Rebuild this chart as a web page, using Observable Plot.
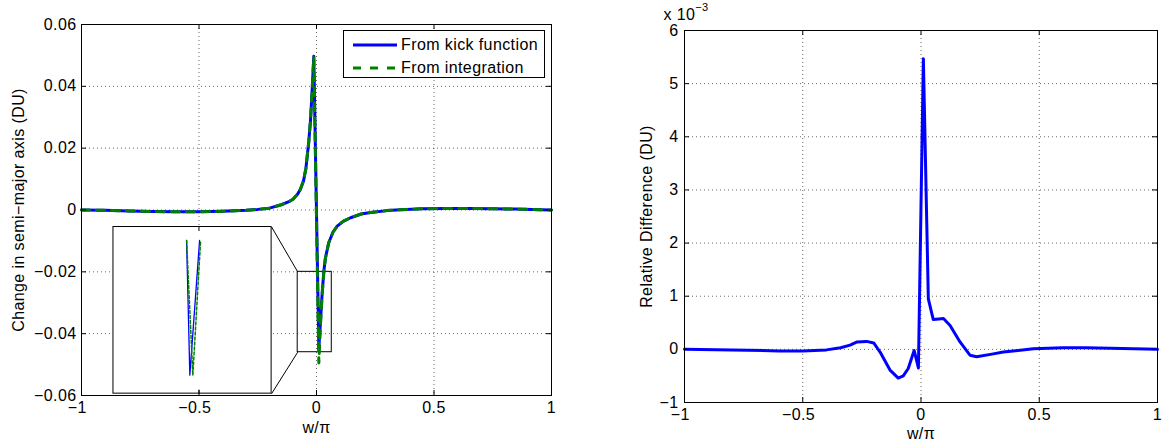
<!DOCTYPE html>
<html><head><meta charset="utf-8">
<script src="https://cdn.jsdelivr.net/npm/d3@7"></script>
<script src="https://cdn.jsdelivr.net/npm/@observablehq/plot@0.6"></script>
<style>
body{margin:0;background:#fff;font-family:"Liberation Sans",Arial,Helvetica,sans-serif;}
#wrap{position:relative;width:1163px;height:441px;overflow:hidden;background:#fff;}
.leg{position:absolute;box-sizing:border-box;border:1px solid #000;background:#fff;font-size:16px;letter-spacing:0.4px;}
.leg span{position:absolute;white-space:nowrap;line-height:1;}
</style></head><body><div id="wrap"></div>
<script>
// ---------- data ----------
const w = [-1, -0.9, -0.8, -0.7, -0.6, -0.5, -0.4, -0.3, -0.25, -0.2, -0.15, -0.12, -0.1, -0.08, -0.068, -0.055, -0.045, -0.04, -0.033, -0.0255, -0.018, -0.0115, 0.01, 0.017, 0.024, 0.031, 0.038, 0.052, 0.07, 0.088, 0.115, 0.145, 0.19, 0.23, 0.3, 0.357, 0.45, 0.55, 0.65, 0.75, 0.85, 0.95, 1];
const kick = [0, -0.0001, -0.0003, -0.0005, -0.0006, -0.0006, -0.0004, -0.0001, 0.0002, 0.0006, 0.0017, 0.0026, 0.0035, 0.0052, 0.0068, 0.0095, 0.0135, 0.017, 0.022, 0.029, 0.0395, 0.0497, -0.0447, -0.036, -0.027, -0.02, -0.0155, -0.0106, -0.0072, -0.0052, -0.0036, -0.0025, -0.0013, -0.0008, -0.0002, 0.0001, 0.0004, 0.0005, 0.0005, 0.0004, 0.0003, 0.0001, 0];
const integ = [0, -0.0001, -0.0003, -0.0005, -0.0006, -0.0006, -0.0004, -0.0001, 0.0002, 0.0006, 0.0017, 0.0026, 0.0035, 0.0052, 0.0068, 0.0095, 0.0135, 0.017, 0.022, 0.029, 0.0395, 0.0495, -0.0495, -0.037, -0.0275, -0.0202, -0.0156, -0.0106, -0.0072, -0.0052, -0.0036, -0.0025, -0.0013, -0.0008, -0.0002, 0.0001, 0.0004, 0.0005, 0.0005, 0.0004, 0.0003, 0.0001, 0];

const wR = [-1, -0.8, -0.6, -0.5, -0.4, -0.34, -0.3, -0.27, -0.23, -0.2, -0.173, -0.131, -0.096, -0.075, -0.054, -0.029, -0.011, 0.01, 0.031, 0.052, 0.075, 0.095, 0.123, 0.165, 0.207, 0.235, 0.3, 0.348, 0.475, 0.6, 0.7, 0.8, 0.9, 1];
const relDiff = [0, -0.01, -0.03, -0.03, -0.01, 0.03, 0.08, 0.14, 0.15, 0.12, -0.05, -0.39, -0.54, -0.5, -0.36, -0.02, -0.35, 5.47, 0.95, 0.56, 0.57, 0.58, 0.45, 0.14, -0.11, -0.14, -0.09, -0.05, 0.01, 0.03, 0.03, 0.02, 0.01, 0]; // x 1e-3

const xTicks = [-1, -0.5, 0, 0.5, 1];
const yTicksL = [-0.06, -0.04, -0.02, 0, 0.02, 0.04, 0.06];
const yTicksR = [-1, 0, 1, 2, 3, 4, 5, 6];
const legendLabels = ["From kick function", "From integration"];
const seriesColors = ["#0000ff", "#008000"];

// zoomed region and inset placement (main-axis data coordinates)
const zoomBox = {x1: -0.08, x2: 0.065, y1: -0.046, y2: -0.02};
const insetBox = {x1: -0.864, x2: -0.191, y1: -0.0594, y2: -0.0055};

// inset content (inset's own axes)
const insetX = [-0.145, -0.107, 0.007];
const insetKick = [0.922, 0.114, 0.922];
const insetXInteg = [-0.145, -0.072, 0.019];
const insetInteg = [0.922, 0.114, 0.922];
const insetTicks = [0];

// ---------- helpers ----------
const fmt = d => String(d).replace("-", "\u2212");
// x tick labels: digits centred on the tick, minus sign hanging to the left
const fmtX = d => d < 0 ? "\u2212" + String(-d) + "\u2002" : String(d);
const FONT = "'Liberation Sans', Arial, Helvetica, sans-serif";
const style = {fontSize: "16px", fontFamily: FONT, letterSpacing: "0.4px", background: "transparent", overflow: "visible", color: "#000"};
const gridStyle = {stroke: "#000", strokeOpacity: 0.6, strokeDasharray: "1,3"};
const wrap = document.getElementById("wrap");

// ---------- left plot ----------
const L = {width: 570, height: 441, mt: 24, mb: 46, ml: 81, mr: 19};
const LW = L.width - L.ml - L.mr, LH = L.height - L.mt - L.mb;
const dataL = w.map((x, i) => ({w: x, kick: kick[i], integ: integ[i]}));
const links = [
  {x1: insetBox.x2, y1: insetBox.y2, x2: zoomBox.x1, y2: zoomBox.y2},
  {x1: insetBox.x2, y1: insetBox.y1, x2: zoomBox.x1, y2: zoomBox.y1}
];

const left = Plot.plot({
  width: L.width, height: L.height,
  marginTop: L.mt, marginBottom: L.mb, marginLeft: L.ml, marginRight: L.mr,
  style,
  x: {domain: [-1, 1]},
  y: {domain: [-0.06, 0.06]},
  marks: [
    Plot.gridX(xTicks, gridStyle),
    Plot.gridY(yTicksL, gridStyle),
    Plot.rect([insetBox], {x1: "x1", x2: "x2", y1: "y1", y2: "y2", fill: "white", stroke: "#000", strokeWidth: 1}),
    Plot.link(links, {x1: "x1", y1: "y1", x2: "x2", y2: "y2", stroke: "#000", strokeWidth: 1}),
    Plot.rect([zoomBox], {x1: "x1", x2: "x2", y1: "y1", y2: "y2", fill: "none", stroke: "#000", strokeWidth: 1}),
    Plot.line(dataL, {x: "w", y: "kick", stroke: seriesColors[0], strokeWidth: 3}),
    Plot.line(dataL, {x: "w", y: "integ", stroke: seriesColors[1], strokeWidth: 3, strokeDasharray: "8,7"}),
    Plot.frame({stroke: "#000", strokeWidth: 1}),
    Plot.tickX(xTicks, {x: d => d, insetTop: LH - 5, stroke: "#000"}),
    Plot.tickX(xTicks, {x: d => d, insetBottom: LH - 5, stroke: "#000"}),
    Plot.tickY(yTicksL, {y: d => d, insetRight: LW - 5, stroke: "#000"}),
    Plot.tickY(yTicksL, {y: d => d, insetLeft: LW - 5, stroke: "#000"}),
    Plot.axisX(xTicks, {tickSize: 0, tickPadding: 6, tickFormat: fmtX, label: null}),
    Plot.axisY(yTicksL, {tickSize: 0, tickPadding: 5, tickFormat: fmt, label: null}),
    Plot.text(["w/\u03c0"], {text: d => d, frameAnchor: "bottom", lineAnchor: "middle", dy: 32}),
    Plot.text(["Change in semi\u2212major axis (DU)"], {text: d => d, frameAnchor: "left", textAnchor: "middle", dx: -63, rotate: -90})
  ]
});
left.style.position = "absolute"; left.style.left = "0px"; left.style.top = "0px";
wrap.appendChild(left);

// inset overlay, aligned to the inset box through the main scales
const sx = left.scale("x"), sy = left.scale("y");
const ix0 = sx.apply(insetBox.x1), ix1 = sx.apply(insetBox.x2);
const iy0 = sy.apply(insetBox.y2), iy1 = sy.apply(insetBox.y1);
const IW = ix1 - ix0, IH = iy1 - iy0;
const inset = Plot.plot({
  width: IW, height: IH, margin: 0, style,
  x: {domain: [-1, 0.85], axis: null},
  y: {domain: [0, 1], axis: null},
  marks: [
    Plot.line(insetX.map((x, i) => ({x, y: insetKick[i]})), {x: "x", y: "y", stroke: seriesColors[0], strokeWidth: 1.3}),
    Plot.line(insetXInteg.map((x, i) => ({x, y: insetInteg[i]})), {x: "x", y: "y", stroke: seriesColors[1], strokeWidth: 1.5, strokeDasharray: "3,2"}),
    Plot.tickX(insetTicks, {x: d => d, insetTop: IH - 4, stroke: "#000"}),
    Plot.tickX(insetTicks, {x: d => d, insetBottom: IH - 4, stroke: "#000"})
  ]
});
inset.style.position = "absolute"; inset.style.left = ix0 + "px"; inset.style.top = iy0 + "px";
wrap.appendChild(inset);

// legend (inside upper right of left axes)
const leg = document.createElement("div");
leg.className = "leg";
leg.style.left = "343px"; leg.style.top = "30px"; leg.style.width = "202px"; leg.style.height = "48px";
legendLabels.forEach((lab, i) => {
  const cy = i === 0 ? 14 : 37;
  const s = document.createElementNS("http://www.w3.org/2000/svg", "svg");
  s.setAttribute("width", 46); s.setAttribute("height", 8);
  s.style.position = "absolute"; s.style.left = "8px"; s.style.top = (cy - 4) + "px";
  const ln = document.createElementNS("http://www.w3.org/2000/svg", "line");
  ln.setAttribute("x1", 1); ln.setAttribute("x2", 45); ln.setAttribute("y1", 4); ln.setAttribute("y2", 4);
  ln.setAttribute("stroke", seriesColors[i]); ln.setAttribute("stroke-width", 3);
  if (i === 1) ln.setAttribute("stroke-dasharray", "8,9");
  s.appendChild(ln); leg.appendChild(s);
  const t = document.createElement("span");
  t.textContent = lab; t.style.left = "57px"; t.style.top = (cy - 8) + "px";
  leg.appendChild(t);
});
wrap.appendChild(leg);

// ---------- right plot ----------
const R = {width: 563, height: 441, mt: 30, mb: 39, ml: 84, mr: 6};
const RW = R.width - R.ml - R.mr, RH = R.height - R.mt - R.mb;
const dataR = wR.map((x, i) => ({w: x, d: relDiff[i]}));
const right = Plot.plot({
  width: R.width, height: R.height,
  marginTop: R.mt, marginBottom: R.mb, marginLeft: R.ml, marginRight: R.mr,
  style,
  x: {domain: [-1, 1]},
  y: {domain: [-1, 6]},
  marks: [
    Plot.gridX(xTicks, gridStyle),
    Plot.gridY(yTicksR, gridStyle),
    Plot.line(dataR, {x: "w", y: "d", stroke: seriesColors[0], strokeWidth: 3}),
    Plot.frame({stroke: "#000", strokeWidth: 1}),
    Plot.tickX(xTicks, {x: d => d, insetTop: RH - 5, stroke: "#000"}),
    Plot.tickX(xTicks, {x: d => d, insetBottom: RH - 5, stroke: "#000"}),
    Plot.tickY(yTicksR, {y: d => d, insetRight: RW - 5, stroke: "#000"}),
    Plot.tickY(yTicksR, {y: d => d, insetLeft: RW - 5, stroke: "#000"}),
    Plot.axisX(xTicks, {tickSize: 0, tickPadding: 6, tickFormat: fmtX, label: null}),
    Plot.axisY(yTicksR, {tickSize: 0, tickPadding: 6, tickFormat: fmt, label: null}),
    Plot.text(["w/\u03c0"], {text: d => d, frameAnchor: "bottom", lineAnchor: "middle", dy: 31}),
    Plot.text(["Relative Difference (DU)"], {text: d => d, frameAnchor: "left", textAnchor: "middle", dx: -38, rotate: -90})
  ]
});
right.style.position = "absolute"; right.style.left = "600px"; right.style.top = "0px";
wrap.appendChild(right);
// exponent annotation
const ex = d3.select(right).append("text").attr("x", 86).attr("y", 20)
  .attr("font-family", FONT).attr("font-size", 16).attr("fill", "#000");
ex.append("tspan").text("x 10");
ex.append("tspan").attr("dy", -9).attr("font-size", 11).text("\u22123");
</script></body></html>
